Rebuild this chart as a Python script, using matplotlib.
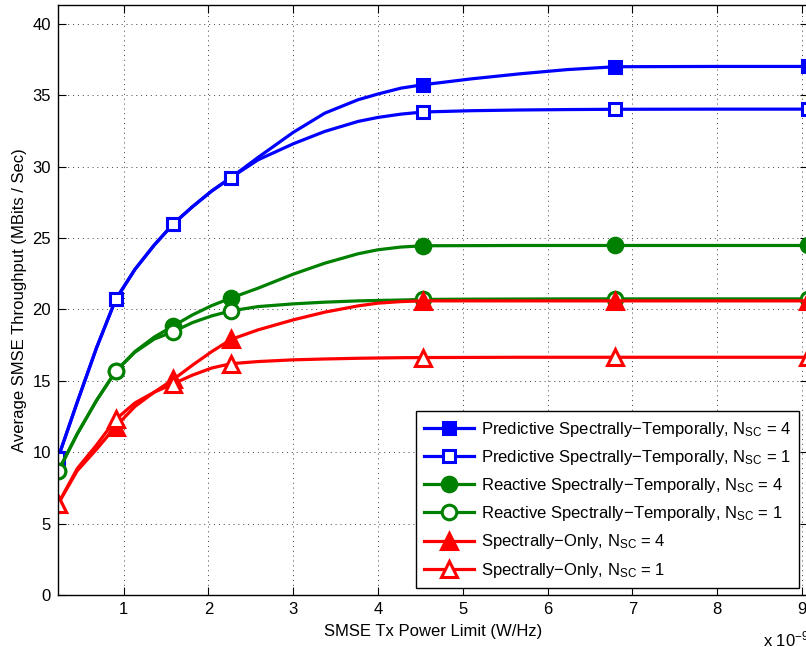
import numpy as np
import matplotlib
matplotlib.use('Agg')
import matplotlib.pyplot as plt

plt.rcParams['font.family'] = ['Liberation Sans', 'DejaVu Sans']
plt.rcParams['mathtext.fontset'] = 'custom'
plt.rcParams['mathtext.rm'] = 'Liberation Sans'
plt.rcParams['mathtext.it'] = 'Liberation Sans:italic'

# Tx power limit (x 1e-9 W/Hz)
power = [0.227, 0.453, 0.68, 0.907, 1.133, 1.36, 1.587, 1.813, 2.04, 2.267,
         2.586, 3.0, 3.373, 3.766, 4.0, 4.27, 4.533,
         5.1, 5.667, 6.233, 6.8, 7.933, 9.067]
marker_idx = [0, 3, 6, 9, 16, 20, 22]

pred_4 = [9.6, 13.5, 17.3, 20.7, 22.8, 24.5, 26.0, 27.2, 28.3, 29.24,
          30.65, 32.4, 33.75, 34.69, 35.09, 35.5, 35.74,
          36.15, 36.5, 36.8, 37.0, 37.02, 37.02]
pred_1 = [9.6, 13.5, 17.3, 20.7, 22.8, 24.5, 26.0, 27.2, 28.3, 29.24,
          30.48, 31.6, 32.47, 33.17, 33.45, 33.68, 33.83,
          33.92, 33.97, 34.0, 34.02, 34.03, 34.03]
react_4 = [8.65, 11.28, 13.62, 15.67, 17.05, 18.06, 18.85, 19.62, 20.27, 20.8,
           21.49, 22.47, 23.24, 23.9, 24.18, 24.37, 24.46,
           24.47, 24.48, 24.48, 24.48, 24.48, 24.48]
react_1 = [8.65, 11.28, 13.62, 15.67, 17.0, 17.92, 18.45, 19.08, 19.55, 19.9,
           20.2, 20.39, 20.51, 20.6, 20.63, 20.66, 20.7,
           20.72, 20.73, 20.74, 20.74, 20.74, 20.74]
spec_4 = [6.38, 8.7, 10.2, 11.8, 13.2, 14.2, 15.1, 16.1, 17.05, 17.9,
          18.57, 19.27, 19.81, 20.25, 20.44, 20.55, 20.6,
          20.6, 20.6, 20.6, 20.6, 20.6, 20.6]
spec_1 = [6.38, 8.85, 10.5, 12.3, 13.45, 14.2, 14.8, 15.4, 15.9, 16.2,
          16.35, 16.47, 16.53, 16.58, 16.6, 16.62, 16.63,
          16.64, 16.65, 16.65, 16.65, 16.65, 16.65]

labels = [r'Predictive Spectrally$-$Temporally, N$_{\mathrm{SC}}$ = 4',
          r'Predictive Spectrally$-$Temporally, N$_{\mathrm{SC}}$ = 1',
          r'Reactive Spectrally$-$Temporally, N$_{\mathrm{SC}}$ = 4',
          r'Reactive Spectrally$-$Temporally, N$_{\mathrm{SC}}$ = 1',
          r'Spectrally$-$Only, N$_{\mathrm{SC}}$ = 4',
          r'Spectrally$-$Only, N$_{\mathrm{SC}}$ = 1']

blue = (0, 0, 1)
green = (0, 0.5, 0)
red = (1, 0, 0)

fig = plt.figure(figsize=(8.06, 6.47), dpi=100)
ax = fig.add_axes([0.072, 0.0804, 0.93, 0.912])

series = [
    (pred_4, blue, 's', True, 9),
    (pred_1, blue, 's', False, 9),
    (react_4, green, 'o', True, 10.5),
    (react_1, green, 'o', False, 10.5),
    (spec_4, red, '^', True, 11.5),
    (spec_1, red, '^', False, 11.5),
]
for (y, c, m, filled, ms), lab in zip(series, labels):
    ax.plot(power, y, color=c, lw=2.3, marker=m, markersize=ms,
            markevery=marker_idx, mfc=c if filled else 'white', mec=c,
            mew=2.2, label=lab)

ax.set_xlim(0.2267, 9.067)
ax.set_ylim(0, 41.33)
ax.set_xticks(range(1, 10))
ax.set_yticks(range(0, 41, 5))
ax.tick_params(direction='in', top=True, right=True, length=5.5, width=0.8,
               labelsize=12, pad=5)
ax.grid(True, linestyle=(0, (1, 4)), color='0.25', linewidth=0.7)
for s in ax.spines.values():
    s.set_linewidth(1.0)

ax.set_xlabel('SMSE Tx Power Limit (W/Hz)', fontsize=12, labelpad=5)
ax.set_ylabel('Average SMSE Throughput (MBits / Sec)', fontsize=12, labelpad=4)
ax.text(0.941, -0.075, r'x 10$^{-9}$', transform=ax.transAxes, fontsize=12,
        ha='left', va='center')

leg = ax.legend(loc='lower right', bbox_to_anchor=(0.989, 0.012),
                borderaxespad=0, fontsize=12, numpoints=1, handlelength=3,
                handletextpad=0.4, labelspacing=0.55, fancybox=False,
                framealpha=1, edgecolor='black', borderpad=0.5)
leg.get_frame().set_linewidth(1.0)

fig.savefig('out.png', dpi=100)
